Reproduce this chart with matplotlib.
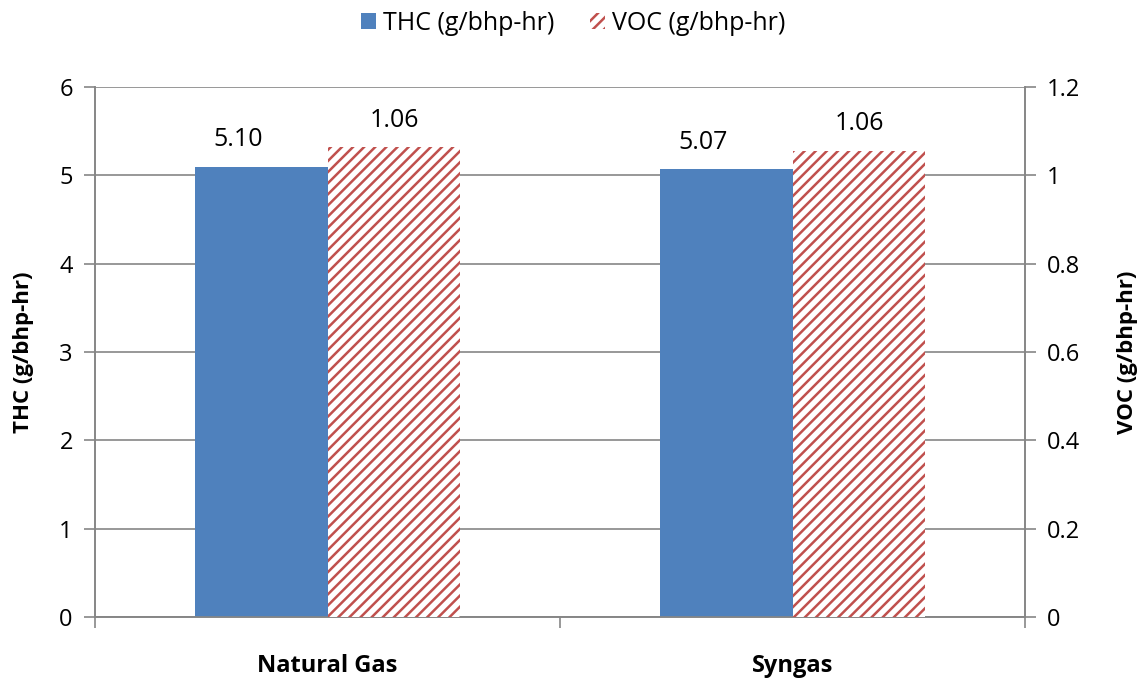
import numpy as np
import matplotlib
matplotlib.use("Agg")
import matplotlib.pyplot as plt

categories = ["Natural Gas", "Syngas"]
thc = [5.10, 5.07]
voc = [1.064, 1.056]

plt.rcParams['font.family'] = ['Open Sans', 'DejaVu Sans']
plt.rcParams['hatch.linewidth'] = 1.8
plt.rcParams['hatch.color'] = '#C0504D'

blue = '#4F81BD'
red = '#C0504D'
grey = '#868686'

fig = plt.figure(figsize=(11.46, 6.79), dpi=100)
ax = fig.add_axes([95/1146, 1-617/679, 930/1146, 530/679])
ax2 = ax.twinx()

x = np.arange(len(categories))
w = 0.286

b1 = ax.bar(x - w/2, thc, w, color=blue, zorder=3, label='THC (g/bhp-hr)')
b2 = ax2.bar(x + w/2, voc, w, color='white', edgecolor=red, linewidth=0,
             hatch='///', zorder=3, label='VOC (g/bhp-hr)')

ax.set_xlim(-0.5, 1.5)
ax.set_ylim(0, 6)
ax2.set_ylim(0, 1.2)
ax.set_yticks(range(0, 7))
ax2.set_yticks([0, 0.2, 0.4, 0.6, 0.8, 1.0, 1.2])
ax2.set_yticklabels(['0', '0.2', '0.4', '0.6', '0.8', '1', '1.2'])

ax.set_xticks([-0.5, 0.5, 1.5])
ax.set_xticklabels([])
ax.tick_params(axis='x', length=8, color=grey, width=1.2)
ax.tick_params(axis='y', length=8, color=grey, width=1.2, labelsize=17, pad=8)
ax2.tick_params(axis='y', length=8, color=grey, width=1.2, labelsize=17, pad=8)
for i, c in enumerate(categories):
    ax.text(x[i], -0.55, c, ha='center', va='center', fontsize=17,
            fontweight='bold', transform=ax.transData)

ax.yaxis.grid(True, color=grey, linewidth=1.2, zorder=0)
ax.set_axisbelow(True)
for a in (ax, ax2):
    a.spines['top'].set_visible(False)
    for s in ('left', 'right', 'bottom'):
        a.spines[s].set_color(grey)
        a.spines[s].set_linewidth(1.2)

ax.set_ylabel('THC (g/bhp-hr)', fontsize=16, fontweight='bold', labelpad=18)
ax2.set_ylabel('VOC (g/bhp-hr)', fontsize=16, fontweight='bold', labelpad=26)

# value labels (Excel puts the THC ones a bit left of the bar centre)
for i in range(len(categories)):
    ax.text(x[i] - w/2 - 0.05, thc[i] + 0.16, '%.2f' % thc[i], ha='center', va='bottom', fontsize=18)
    ax2.text(x[i] + w/2, voc[i] + 0.032, '%.2f' % voc[i], ha='center', va='bottom', fontsize=18)

fig.legend(handles=[b1, b2], loc='center', bbox_to_anchor=(0.5, 1-23/679), ncol=2,
           frameon=False, fontsize=18, handlelength=0.6, handleheight=0.6,
           handletextpad=0.3, columnspacing=1.4)

fig.savefig('out.png', dpi=100)
